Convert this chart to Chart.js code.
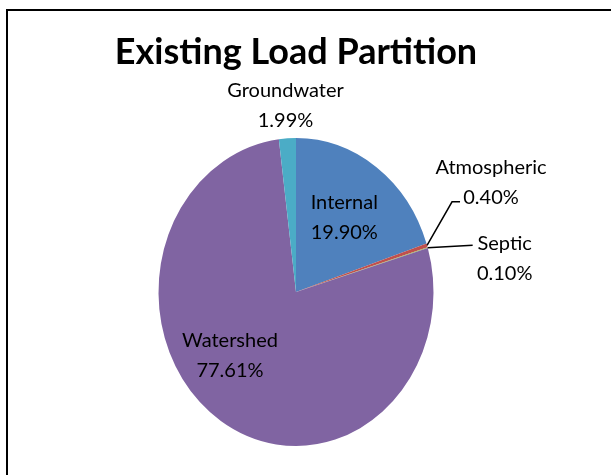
<!DOCTYPE html>
<html>
<head>
<meta charset="utf-8">
<title>Existing Load Partition</title>
<script src="https://cdn.jsdelivr.net/npm/chart.js@4.4.1/dist/chart.umd.min.js"></script>
<style>
  body { margin: 0; background: #fff; }
  #wrap { position: relative; width: 611px; height: 475px; overflow: hidden; }
  #frame {
    position: absolute; left: 6px; top: 9px; width: 800px; height: 800px;
    border-left: 2px solid #000; border-top: 2px solid #000;
  }
  canvas { position: absolute; left: 0; top: 0; }
</style>
</head>
<body>
<div id="wrap">
  <canvas id="myChart" width="611" height="475"></canvas>
  <div id="frame"></div>
</div>
<script>
// data (percent of existing load)
const labels = ["Internal", "Atmospheric", "Septic", "Watershed", "Groundwater"];
const values = [19.9, 0.4, 0.1, 77.61, 1.99];
const colors = ["#4F81BD", "#C0504D", "#9BBB59", "#8064A2", "#4BACC6"];

const stretchY = 1.12; // the picture is taller than wide
const labelFont = "20px Lato";

// where each data label goes (in = along the slice, lead = with a leader line)
const labelPos = [
  { mode: "in", f: 0.6, da: 0 },
  { mode: "lead", dx: 64, dy: -63, line: [[-39, 19.5], [-31, 19.5]] },
  { mode: "lead", dx: 77, dy: 10, line: [[-32, -12.5]] },
  { mode: "in", f: 0.63, da: 16.5 },
  { mode: "in", f: 1.217, da: 0 },
];

// draw pie as an ellipse
const ellipse = {
  id: "ellipse",
  beforeDatasetsDraw(chart) {
    const arc = chart.getDatasetMeta(0).data[0];
    const ctx = chart.ctx;
    ctx.save();
    ctx.translate(arc.x, arc.y);
    ctx.scale(1, stretchY);
    ctx.translate(-arc.x, -arc.y);
  },
  afterDatasetsDraw(chart) {
    chart.ctx.restore();
  },
};

// data labels
const dataLabels = {
  id: "dataLabels",
  afterDraw(chart) {
    const ctx = chart.ctx;
    const meta = chart.getDatasetMeta(0);
    ctx.save();
    ctx.font = labelFont;
    ctx.fillStyle = "#000";
    ctx.strokeStyle = "#000";
    ctx.lineWidth = 1.5;
    ctx.textAlign = "center";
    ctx.textBaseline = "alphabetic";
    const capH = 0.7165 * 20;
    meta.data.forEach((arc, i) => {
      const p = labelPos[i];
      const mid = (arc.startAngle + arc.endAngle) / 2;
      const R = arc.outerRadius;
      let cx, cy;
      if (p.mode == "in") {
        const a = mid + (p.da * Math.PI) / 180;
        cx = arc.x + Math.cos(a) * R * p.f;
        cy = arc.y + Math.sin(a) * R * stretchY * p.f;
      } else {
        const ex = arc.x + Math.cos(mid) * R;
        const ey = arc.y + Math.sin(mid) * R * stretchY;
        cx = ex + p.dx;
        cy = ey + p.dy;
        ctx.beginPath();
        ctx.moveTo(ex, ey);
        p.line.forEach((pt) => ctx.lineTo(cx + pt[0], cy + pt[1]));
        ctx.stroke();
      }
      const pct = values[i].toFixed(2) + "%";
      ctx.fillText(labels[i], cx, cy - 15 + capH / 2);
      ctx.fillText(pct, cx, cy + 15 + capH / 2);
    });
    ctx.restore();
  },
};

const chartOne = document.getElementById("myChart").getContext("2d");
const pieChart = new Chart(chartOne, {
  type: "pie",
  data: {
    labels: labels,
    datasets: [
      {
        data: values,
        backgroundColor: colors,
        borderWidth: 0,
        clip: false,
      },
    ],
  },
  options: {
    responsive: false,
    animation: false,
    layout: {
      padding: { top: 10, left: 100, right: 119, bottom: 45.5 },
    },
    plugins: {
      title: {
        display: true,
        text: "Existing Load Partition",
        color: "#000",
        font: { family: "Lato", size: 36, weight: "bold", lineHeight: 1.2 },
        padding: { top: 20.4, bottom: 80.9 },
      },
      legend: { display: false },
      tooltip: { enabled: false },
    },
  },
  plugins: [ellipse, dataLabels],
});
</script>
</body>
</html>
